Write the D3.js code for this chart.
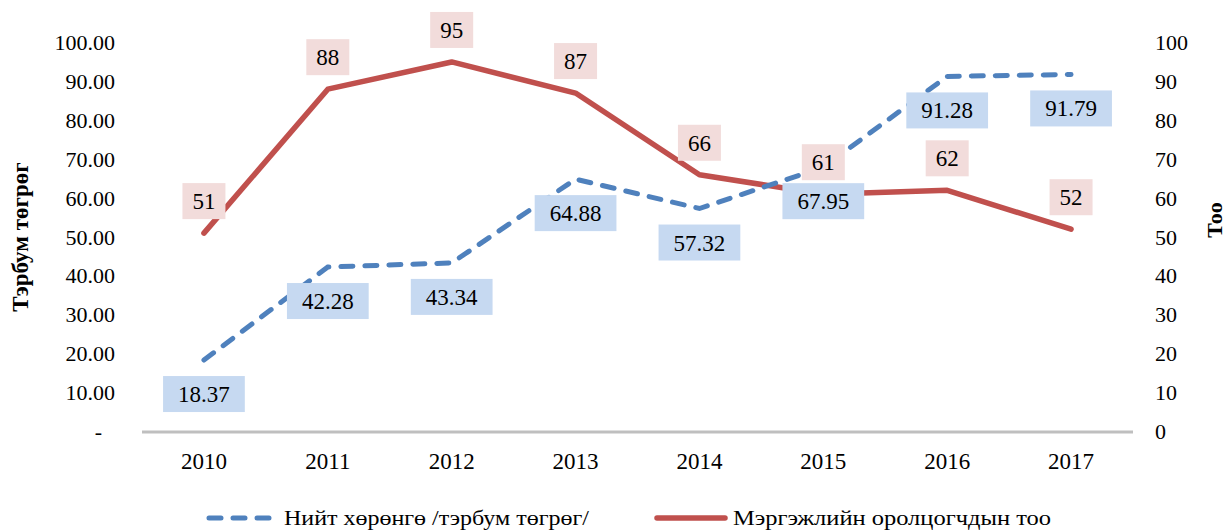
<!DOCTYPE html>
<head>
  <meta charset="utf-8">
  <script src="https://d3js.org/d3.v7.min.js"></script>
  <style>
    body { margin:0; background:#fff; }
  </style>
</head>
<body>
<script>

  // data
  var years = ["2010","2011","2012","2013","2014","2015","2016","2017"];
  var assets = [18.37, 42.28, 43.34, 64.88, 57.32, 67.95, 91.28, 91.79];
  var members = [51, 88, 95, 87, 66, 61, 62, 52];
  var leftTicks = [0,10,20,30,40,50,60,70,80,90,100];
  var rightTicks = [0,10,20,30,40,50,60,70,80,90,100];
  var seriesNames = ["Нийт хөрөнгө /тэрбум төгрөг/", "Мэргэжлийн оролцогчдын тоо"];

  var W = 1227, H = 531;
  var plot = {left:142, right:1133, top:42.5, bottom:431.5};
  var FONT = "'Liberation Serif', 'Times New Roman', serif";

  var svg = d3.select("body").append("svg")
    .attr("width", W)
    .attr("height", H);

  var x = d3.scalePoint()
    .domain(years)
    .range([plot.left, plot.right])
    .padding(0.5);

  var yL = d3.scaleLinear().domain([0,100]).range([plot.bottom, plot.top]);
  var yR = d3.scaleLinear().domain([0,100]).range([plot.bottom, plot.top]);

  // left axis
  var gl = svg.append("g")
    .attr("transform", "translate(115,0)")
    .call(d3.axisLeft(yL).tickValues(leftTicks).tickSize(0).tickPadding(0)
      .tickFormat(function(d){ return d === 0 ? "-" : d3.format(".2f")(d); }));
  gl.select(".domain").remove();
  gl.selectAll(".tick text").style("font-size", "22px");
  gl.selectAll(".tick text").filter(function(d){ return d === 0; }).attr("x", -13);

  // right axis
  var gr = svg.append("g")
    .attr("transform", "translate(1155,0)")
    .call(d3.axisRight(yR).tickValues(rightTicks).tickSize(0).tickPadding(0));
  gr.select(".domain").remove();
  gr.selectAll(".tick text").style("font-size", "22px");

  // category axis
  svg.append("line")
    .attr("x1", plot.left).attr("x2", plot.right)
    .attr("y1", 432).attr("y2", 432)
    .attr("stroke", "#bfbfbf").attr("stroke-width", 3);

  svg.selectAll(".year").data(years).enter()
    .append("text")
    .attr("class", "year")
    .attr("x", function(d){ return x(d); })
    .attr("y", 469)
    .attr("text-anchor", "middle")
    .style("font-size", "23px")
    .text(function(d){ return d; });

  // axis titles
  svg.append("text")
    .attr("transform", "translate(28,237) rotate(-90)")
    .attr("text-anchor", "middle")
    .style("font-size", "23px").style("font-weight", "bold")
    .text("Тэрбум төгрөг");

  svg.append("text")
    .attr("transform", "translate(1222,220) rotate(-90)")
    .attr("text-anchor", "middle")
    .style("font-size", "22px").style("font-weight", "bold")
    .text("Тоо");

  // lines
  var lineL = d3.line()
    .x(function(d,i){ return x(years[i]); })
    .y(function(d){ return yL(d); });
  var lineR = d3.line()
    .x(function(d,i){ return x(years[i]); })
    .y(function(d){ return yR(d); });

  svg.append("path")
    .attr("d", lineR(members))
    .attr("fill", "none")
    .attr("stroke", "#c0504d")
    .attr("stroke-width", 5.5)
    .attr("stroke-linecap", "round")
    .attr("stroke-linejoin", "round");

  svg.append("path")
    .attr("d", lineL(assets))
    .attr("fill", "none")
    .attr("stroke", "#4f81bd")
    .attr("stroke-width", 5)
    .attr("stroke-dasharray", "12 12")
    .attr("stroke-linecap", "round");

  // data labels
  function labels(values, scale, fmt, dy, fill, pad) {
    var g = svg.selectAll(null).data(values).enter().append("g")
      .attr("transform", function(d,i){ return "translate(" + x(years[i]) + "," + (scale(d) + dy) + ")"; });
    var rect = g.append("rect").attr("fill", fill);
    var t = g.append("text")
      .attr("text-anchor", "middle")
      .attr("dy", "0.35em")
      .style("font-family", FONT)
      .style("font-size", "23px")
      .text(function(d){ return fmt(d); });
    rect.each(function(d, i){
      var w = t.nodes()[i].getComputedTextLength() + pad * 2;
      d3.select(this).attr("x", -w/2).attr("y", -18).attr("width", w).attr("height", 36);
    });
  }
  labels(assets, yL, d3.format(".2f"), 34, "#c6d9f1", 15);
  labels(members, yR, d3.format("d"), -32, "#f2dcdb", 10);

  // legend
  svg.append("line")
    .attr("x1", 209).attr("x2", 270).attr("y1", 518).attr("y2", 518)
    .attr("stroke", "#4f81bd").attr("stroke-width", 5)
    .attr("stroke-dasharray", "12 12").attr("stroke-linecap", "round");
  svg.append("text")
    .attr("x", 284).attr("y", 525)
    .style("font-size", "21px")
    .attr("textLength", 305).attr("lengthAdjust", "spacingAndGlyphs")
    .text(seriesNames[0]);

  svg.append("line")
    .attr("x1", 657).attr("x2", 725).attr("y1", 518).attr("y2", 518)
    .attr("stroke", "#c0504d").attr("stroke-width", 5.5)
    .attr("stroke-linecap", "round");
  svg.append("text")
    .attr("x", 733).attr("y", 525)
    .style("font-size", "21px")
    .attr("textLength", 318).attr("lengthAdjust", "spacingAndGlyphs")
    .text(seriesNames[1]);

  // one font for every text
  svg.selectAll("text").style("font-family", FONT).style("fill", "#000");

</script>
</body>
